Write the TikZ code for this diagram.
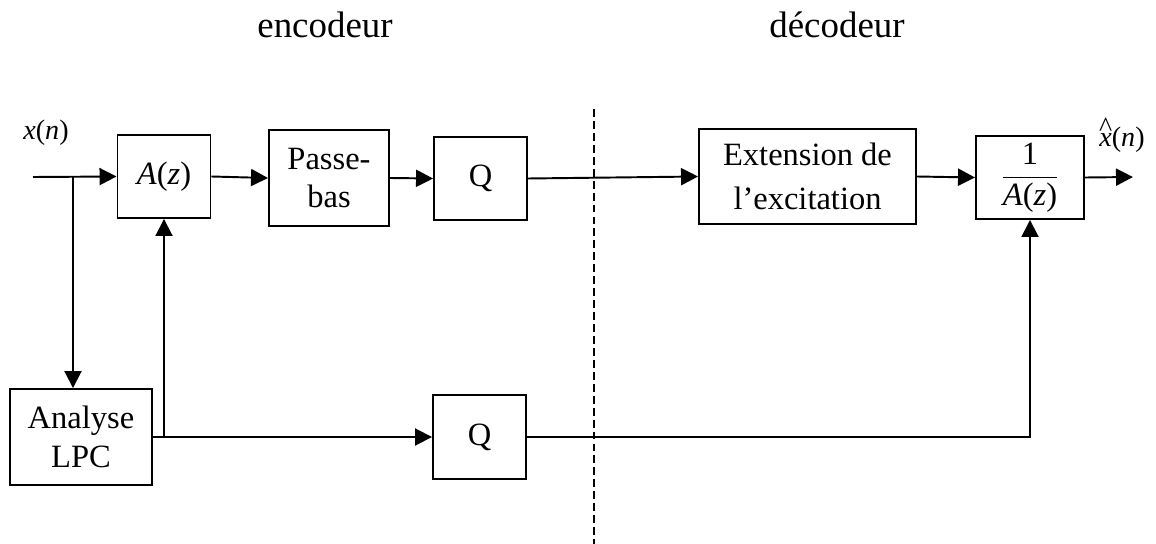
\documentclass[tikz,border=0pt]{standalone}
\usepackage{fontspec}
\setmainfont{Liberation Serif}
\usetikzlibrary{arrows.meta}

\begin{document}
\begin{tikzpicture}
[x=0.02cm,y=-0.02cm,%
  darkArrow/.style={-{Triangle[length=0.34cm,width=0.34cm]},line width=1.1pt},%
  darkLine/.style={line width=1.1pt},%
  sepLine/.style={line width=0.8pt,dash pattern=on 4.5pt off 2.3pt},%
  blockDecorate/.style={shape=rectangle,draw,line width=1.1pt,inner sep=0pt,align=center,font=\fontsize{18.5}{22}\selectfont},%
  titleDecorate/.style={font=\fontsize{21}{25}\selectfont},%
  signalDecorate/.style={font=\fontsize{16}{19}\selectfont}]
\useasboundingbox (0,0) rectangle (1156,544);
%% titles
\node (enc) at (325,25) [titleDecorate] {encodeur};
\node (dec) at (837,25) [titleDecorate] {décodeur};
%% blocks
\foreach \nodename/\x/\y/\w/\h/\txt in {
  az/164/176.5/93/83/{\textit{A}(\textit{z})},
  pb/329/178/120/96/{Passe-\\bas},
  qa/480.5/178.5/93/83/{Q},
  ana/81/437/142/96/{Analyse\\LPC},
  qb/479.5/437/93/84/{Q}}
{
  \node (\nodename) at (\x,\y) [blockDecorate,minimum width=\w*0.02cm,minimum height=\h*0.02cm] {\txt};
}
\node (ext) at (807.5,176.5) [blockDecorate,minimum width=217*0.02cm,minimum height=95*0.02cm,font=\fontsize{18.5}{25}\selectfont] {Extension de\\l’excitation};
\node (inv) at (1030,177.5) [blockDecorate,minimum width=108*0.02cm,minimum height=83*0.02cm] {$\displaystyle\frac{\mbox{1}}{\mbox{\textit{A}(\textit{z})}}$};
%% signals
\node (xn) at (46,133) [signalDecorate] {\textit{x}(\textit{n})};
\node (xhat) at (1122,140) [signalDecorate] {\ooalign{\textit{x}\cr\hidewidth\raisebox{0.36em}{\textasciicircum}\hidewidth\cr}(\textit{n})};
%% free ends
\coordinate (xin) at (33,177);
\coordinate (split) at (73,177);
\coordinate (tap) at (164,437);
\coordinate (xout) at (1133,177);
\coordinate (corner) at (inv.south |- qb.east);
\coordinate (sepTop) at (594,109);
\coordinate (sepBot) at (594,544);
%% connectors
\path
\foreach \startnode/\endnode in {az/pb, pb/qa, qa/ext, ext/inv, ana/qb}
{
  (\startnode.east) edge[darkArrow] (\endnode.west)
}
(xin) edge[darkArrow] (az.west)
(split) edge[darkArrow] (split |- ana.north)
(tap) edge[darkArrow] (az.south)
(inv.east) edge[darkArrow] (xout);
\draw[darkArrow] (qb.east) -- (corner) -- (inv.south);
\draw[sepLine] (sepTop) -- (sepBot);
\end{tikzpicture}
\end{document}
